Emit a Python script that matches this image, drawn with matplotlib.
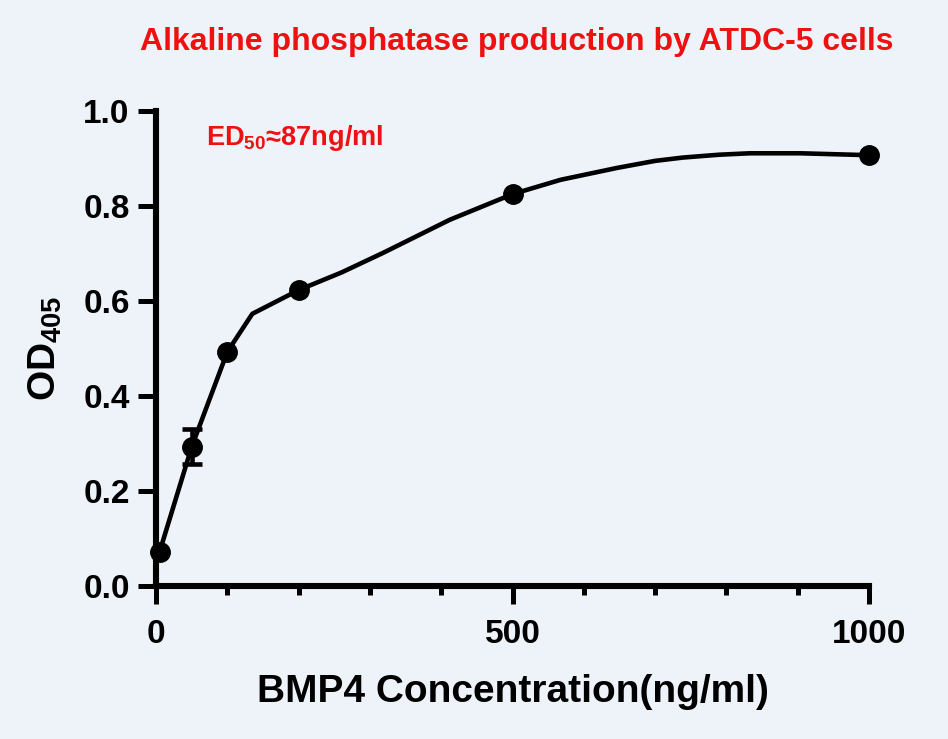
import numpy as np
import matplotlib
matplotlib.use("Agg")
import matplotlib.pyplot as plt
from matplotlib.ticker import FixedLocator

# ------------------------------------------------------------
# data
# ------------------------------------------------------------
conc = [5, 50, 100, 200, 500, 1000]
od = [0.072, 0.293, 0.493, 0.623, 0.825, 0.907]

# only the 50 ng/ml point shows an error bar
err_x = [50]
err_y = [0.293]
err_val = [0.037]

# fitted curve
curve_x = [5, 50, 100, 135, 200, 260, 318, 412, 500, 567, 646, 700, 739, 790, 833, 903, 1000]
curve_y = [0.072, 0.293, 0.493, 0.573, 0.623, 0.660, 0.701, 0.771, 0.825, 0.855, 0.880, 0.895, 0.902, 0.908, 0.911, 0.911, 0.907]

x_major = [0, 500, 1000]
x_minor = [100, 200, 300, 400, 600, 700, 800, 900]
y_major = [0.0, 0.2, 0.4, 0.6, 0.8, 1.0]

BG = "#EEF2F9"
RED = "#EE1111"

plt.rcParams["font.family"] = ["Liberation Sans", "DejaVu Sans"]
plt.rcParams["font.weight"] = "bold"
plt.rcParams["mathtext.fontset"] = "custom"
plt.rcParams["mathtext.rm"] = "Liberation Sans:bold"
plt.rcParams["mathtext.bf"] = "Liberation Sans:bold"
plt.rcParams["mathtext.it"] = "Liberation Sans:bold"

fig = plt.figure(figsize=(9.48, 7.39), dpi=100, facecolor=BG)
ax = fig.add_axes([0.1646, 0.207, 0.7521, 0.6428])
ax.set_facecolor(BG)

ax.plot(curve_x, curve_y, color="black", lw=3.3, clip_on=False, zorder=2,
        solid_joinstyle="round")
ax.errorbar(err_x, err_y, yerr=err_val, fmt="none", ecolor="black",
            elinewidth=3.3, capsize=7, capthick=3.3, zorder=3)
ax.plot(conc, od, "o", color="black", ms=14, clip_on=False, zorder=4)

ax.set_xlim(0, 1000)
ax.set_ylim(0, 1.0)

ax.xaxis.set_major_locator(FixedLocator(x_major))
ax.xaxis.set_minor_locator(FixedLocator(x_minor))
ax.yaxis.set_major_locator(FixedLocator(y_major))
ax.set_yticklabels([f"{v:.1f}" for v in y_major])

for s in ["top", "right"]:
    ax.spines[s].set_visible(False)
for s in ["left", "bottom"]:
    ax.spines[s].set_linewidth(4.4)

ax.tick_params(axis="both", which="major", length=13, width=3.6,
               labelsize=24)
ax.tick_params(axis="y", which="major", pad=6)
ax.tick_params(axis="x", which="major", pad=11)
ax.tick_params(axis="x", which="minor", length=6.5, width=3.6)
for lab in ax.get_xticklabels() + ax.get_yticklabels():
    lab.set_fontweight("bold")

ax.set_xlabel("BMP4 Concentration(ng/ml)", fontsize=28, fontweight="bold", labelpad=17)
ax.set_ylabel("OD$_{405}$", fontsize=28, fontweight="bold", labelpad=14)

fig.text(0.545, 0.943, "Alkaline phosphatase production by ATDC-5 cells",
         color=RED, fontsize=23, fontweight="bold", ha="center", va="center")
ax.text(0.07, 0.944, "ED$_{50}$≈87ng/ml", transform=ax.transAxes,
        color=RED, fontsize=19.5, fontweight="bold", ha="left", va="center")

fig.savefig("out.png", dpi=100, facecolor=BG)
